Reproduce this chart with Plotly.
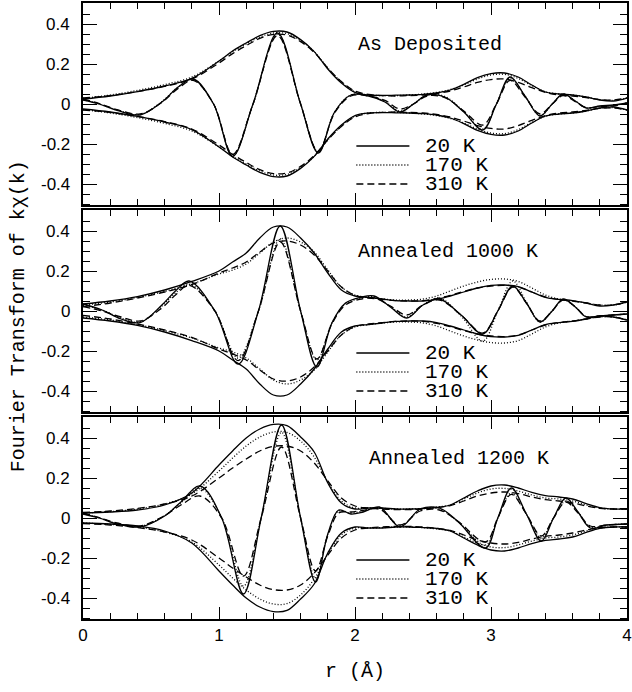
import plotly.graph_objects as go

# ---------------- data ----------------
temps = ["20 K", "170 K", "310 K"]
panel_titles = ["As Deposited", "Annealed 1000 K", "Annealed 1200 K"]
y_tickvals = [-0.4, -0.2, 0.0, 0.2, 0.4]
y_ticktext = ["-0.4", "-0.2", "0", "0.2", "0.4"]
x_tickvals = [0, 1, 2, 3, 4]
x_ticktext = ["0", "1", "2", "3", "4"]

r_env = [0.0, 0.2, 0.4, 0.6, 0.8, 1.0, 1.1, 1.2, 1.3, 1.4, 1.5, 1.6, 1.7, 1.8, 1.9,
         2.0, 2.1, 2.2, 2.3, 2.4, 2.5, 2.6, 2.7, 2.8, 2.9, 3.0, 3.1, 3.2, 3.3, 3.4,
         3.5, 3.6, 3.7, 3.8, 3.9, 4.0]

# magnitude |FT| (envelopes)
env_dep_20 = [0.025, 0.040, 0.062, 0.090, 0.128, 0.215, 0.265, 0.305, 0.342, 0.363, 0.360, 0.322,
              0.262, 0.175, 0.105, 0.058, 0.045, 0.043, 0.044, 0.045, 0.048, 0.055, 0.070, 0.098,
              0.132, 0.152, 0.155, 0.135, 0.095, 0.060, 0.050, 0.045, 0.035, 0.020, 0.015, 0.030]
env_dep_170 = [0.028, 0.045, 0.068, 0.097, 0.135, 0.215, 0.262, 0.300, 0.335, 0.355, 0.352, 0.318,
               0.262, 0.180, 0.110, 0.060, 0.045, 0.042, 0.042, 0.045, 0.050, 0.058, 0.072, 0.095,
               0.125, 0.145, 0.148, 0.128, 0.092, 0.062, 0.050, 0.045, 0.035, 0.022, 0.018, 0.030]
env_dep_310 = [0.030, 0.042, 0.062, 0.088, 0.125, 0.205, 0.252, 0.292, 0.328, 0.348, 0.345, 0.312,
               0.258, 0.180, 0.112, 0.065, 0.048, 0.042, 0.040, 0.042, 0.045, 0.052, 0.065, 0.085,
               0.108, 0.122, 0.125, 0.108, 0.082, 0.058, 0.045, 0.040, 0.032, 0.022, 0.020, 0.030]

env_a10_20 = [0.035, 0.050, 0.072, 0.105, 0.148, 0.200, 0.245, 0.290, 0.365, 0.420, 0.420, 0.365,
              0.290, 0.190, 0.105, 0.075, 0.068, 0.060, 0.052, 0.050, 0.050, 0.058, 0.075, 0.095,
              0.115, 0.128, 0.130, 0.122, 0.095, 0.068, 0.058, 0.052, 0.040, 0.025, 0.030, 0.045]
env_a10_170 = [0.030, 0.045, 0.068, 0.098, 0.135, 0.185, 0.205, 0.235, 0.290, 0.345, 0.365, 0.345,
               0.295, 0.205, 0.120, 0.080, 0.068, 0.060, 0.055, 0.055, 0.060, 0.075, 0.100, 0.125,
               0.145, 0.158, 0.160, 0.148, 0.115, 0.080, 0.060, 0.050, 0.040, 0.030, 0.030, 0.045]
env_a10_310 = [0.022, 0.040, 0.065, 0.095, 0.132, 0.190, 0.215, 0.245, 0.295, 0.340, 0.350, 0.330,
               0.280, 0.200, 0.120, 0.078, 0.065, 0.058, 0.052, 0.050, 0.052, 0.062, 0.078, 0.098,
               0.115, 0.125, 0.128, 0.120, 0.095, 0.070, 0.058, 0.050, 0.040, 0.030, 0.030, 0.045]

env_a12_20 = [0.025, 0.030, 0.040, 0.065, 0.125, 0.265, 0.335, 0.400, 0.445, 0.468, 0.462, 0.405,
              0.330, 0.175, 0.075, 0.045, 0.050, 0.050, 0.045, 0.045, 0.048, 0.052, 0.065, 0.100,
              0.135, 0.160, 0.165, 0.150, 0.128, 0.112, 0.105, 0.095, 0.072, 0.052, 0.045, 0.045]
env_a12_170 = [0.025, 0.032, 0.045, 0.070, 0.120, 0.235, 0.300, 0.360, 0.405, 0.430, 0.428, 0.385,
               0.305, 0.180, 0.085, 0.050, 0.050, 0.048, 0.045, 0.045, 0.048, 0.055, 0.065, 0.095,
               0.125, 0.145, 0.148, 0.135, 0.115, 0.100, 0.095, 0.085, 0.065, 0.050, 0.045, 0.045]
env_a12_310 = [0.028, 0.035, 0.048, 0.070, 0.110, 0.200, 0.250, 0.295, 0.335, 0.358, 0.360, 0.335,
               0.275, 0.185, 0.100, 0.060, 0.050, 0.045, 0.042, 0.042, 0.045, 0.052, 0.062, 0.085,
               0.110, 0.125, 0.130, 0.122, 0.105, 0.092, 0.085, 0.075, 0.060, 0.048, 0.045, 0.045]

# real parts (key points: extrema and zero crossings)
re_dep_r = [0.00, 0.12, 0.25, 0.42, 0.58, 0.70, 0.81, 0.96, 1.10, 1.25, 1.43, 1.60, 1.73, 1.85,
            1.97, 2.10, 2.22, 2.33, 2.43, 2.53, 2.66, 2.80, 2.94, 3.04, 3.14, 3.25, 3.36, 3.45,
            3.53, 3.62, 3.70, 3.80, 3.90, 4.00]
re_dep_20 = [0.020, 0.000, -0.032, -0.055, 0.010, 0.085, 0.125, 0.000, -0.262, 0.000, 0.355, 0.000,
             -0.245, -0.040, 0.045, 0.040, 0.010, -0.040, 0.000, 0.045, 0.035, -0.040, -0.130, 0.000,
             0.135, 0.040, -0.060, 0.000, 0.050, 0.015, -0.020, -0.010, -0.005, 0.005]
re_dep_170 = [0.022, 0.000, -0.030, -0.052, 0.012, 0.085, 0.122, 0.000, -0.258, 0.000, 0.348, 0.000,
              -0.240, -0.040, 0.045, 0.042, 0.012, -0.035, 0.000, 0.045, 0.038, -0.038, -0.125, 0.000,
              0.130, 0.040, -0.058, 0.000, 0.048, 0.015, -0.020, -0.012, -0.008, 0.005]
re_dep_310 = [0.025, 0.002, -0.028, -0.050, 0.008, 0.078, 0.118, 0.000, -0.252, 0.000, 0.342, 0.000,
              -0.238, -0.045, 0.040, 0.040, 0.018, -0.025, 0.000, 0.040, 0.032, -0.035, -0.105, 0.000,
              0.118, 0.035, -0.050, 0.000, 0.042, 0.012, -0.018, -0.012, -0.010, 0.005]

re_a10_r = [0.00, 0.14, 0.28, 0.42, 0.58, 0.68, 0.78, 0.97, 1.14, 1.29, 1.45, 1.60, 1.72, 1.83,
            1.93, 2.05, 2.14, 2.26, 2.38, 2.50, 2.62, 2.78, 2.94, 3.05, 3.16, 3.26, 3.36, 3.45,
            3.53, 3.62, 3.70, 3.80, 3.90, 4.00]
re_a10_20 = [0.035, 0.005, -0.040, -0.058, 0.030, 0.100, 0.150, 0.000, -0.265, 0.000, 0.425, 0.000,
             -0.280, -0.060, 0.040, 0.070, 0.075, 0.020, -0.035, 0.030, 0.060, -0.020, -0.115, 0.000,
             0.125, 0.040, -0.055, 0.000, 0.060, 0.020, -0.030, -0.025, -0.020, -0.015]
re_a10_170 = [0.030, 0.005, -0.035, -0.055, 0.025, 0.090, 0.135, 0.000, -0.235, 0.000, 0.360, 0.000,
              -0.245, -0.060, 0.035, 0.065, 0.070, 0.022, -0.030, 0.030, 0.065, -0.025, -0.150, 0.000,
              0.150, 0.045, -0.055, 0.000, 0.055, 0.020, -0.028, -0.025, -0.020, -0.015]
re_a10_310 = [0.022, 0.000, -0.030, -0.050, 0.015, 0.080, 0.128, 0.000, -0.248, 0.000, 0.345, 0.000,
              -0.240, -0.065, 0.030, 0.060, 0.065, 0.025, -0.020, 0.030, 0.055, -0.020, -0.110, 0.000,
              0.120, 0.040, -0.050, 0.000, 0.055, 0.020, -0.028, -0.025, -0.020, -0.015]

re_a12_r = [0.00, 0.12, 0.25, 0.42, 0.60, 0.72, 0.86, 1.02, 1.18, 1.31, 1.46, 1.60, 1.71, 1.80,
            1.88, 1.97, 2.06, 2.18, 2.33, 2.48, 2.62, 2.76, 2.96, 3.05, 3.15, 3.26, 3.37, 3.46,
            3.55, 3.64, 3.73, 3.85, 4.00]
re_a12_20 = [0.020, 0.000, -0.030, -0.045, 0.010, 0.080, 0.160, 0.000, -0.380, 0.000, 0.465, 0.000,
             -0.320, -0.080, 0.040, 0.020, 0.030, 0.055, -0.045, 0.045, 0.050, -0.020, -0.150, 0.000,
             0.150, 0.020, -0.115, 0.000, 0.100, 0.030, -0.050, -0.035, -0.030]
re_a12_170 = [0.022, 0.000, -0.028, -0.042, 0.012, 0.075, 0.150, 0.000, -0.340, 0.000, 0.428, 0.000,
              -0.300, -0.080, 0.035, 0.025, 0.035, 0.050, -0.040, 0.040, 0.045, -0.020, -0.135, 0.000,
              0.125, 0.020, -0.100, 0.000, 0.085, 0.030, -0.045, -0.035, -0.030]
re_a12_310 = [0.025, 0.002, -0.025, -0.040, 0.012, 0.065, 0.110, 0.000, -0.290, 0.000, 0.355, 0.000,
              -0.265, -0.090, 0.025, 0.030, 0.038, 0.045, -0.035, 0.035, 0.040, -0.018, -0.120, 0.000,
              0.118, 0.020, -0.090, 0.000, 0.080, 0.025, -0.040, -0.035, -0.030]

# ---------------- figure ----------------
dashes = ["solid", "1px,2px", "7px,4px"]
panels = [
    (panel_titles[0], [env_dep_20, env_dep_170, env_dep_310], re_dep_r, [re_dep_20, re_dep_170, re_dep_310], 2.01),
    (panel_titles[1], [env_a10_20, env_a10_170, env_a10_310], re_a10_r, [re_a10_20, re_a10_170, re_a10_310], 2.01),
    (panel_titles[2], [env_a12_20, env_a12_170, env_a12_310], re_a12_r, [re_a12_20, re_a12_170, re_a12_310], 2.09),
]
domains = [[414 / 616, 1.0], [207 / 616, 409 / 616], [0.0, 202 / 616]]

MONO = "Liberation Mono"
SANS = "Liberation Sans"

fig = go.Figure()
shapes = []
annotations = []
for i, (title, envs, rr, reals, title_x) in enumerate(panels):
    ax = "" if i == 0 else str(i + 1)
    xa, ya = "x" + ax, "y" + ax
    for t in range(3):
        ln = dict(color="black", width=1.3, dash=dashes[t], shape="spline", smoothing=1.0)
        fig.add_trace(go.Scatter(x=r_env, y=envs[t], mode="lines", line=ln, xaxis=xa, yaxis=ya,
                                 showlegend=False, hoverinfo="skip"))
        fig.add_trace(go.Scatter(x=r_env, y=[-v for v in envs[t]], mode="lines", line=ln, xaxis=xa,
                                 yaxis=ya, showlegend=False, hoverinfo="skip"))
        fig.add_trace(go.Scatter(x=rr, y=reals[t], mode="lines", line=ln, xaxis=xa, yaxis=ya,
                                 showlegend=False, hoverinfo="skip"))
    annotations.append(dict(text=title, x=title_x, y=0.30, xref=xa, yref=ya, xanchor="left",
                            yanchor="middle", showarrow=False,
                            font=dict(family=MONO, size=20, color="black")))
    for t, yy in enumerate([-0.21, -0.305, -0.40]):
        shapes.append(dict(type="line", xref=xa, yref=ya, x0=2.01, x1=2.40, y0=yy, y1=yy,
                           line=dict(color="black", width=1.3, dash=dashes[t])))
        annotations.append(dict(text=temps[t], x=2.51, y=yy, xref=xa, yref=ya, xanchor="left",
                                yanchor="middle", showarrow=False, height=15, borderpad=0,
                                valign="middle", font=dict(family=MONO, size=21, color="black")))
    # y tick labels (placed just left of each panel)
    for v, txt in zip(y_tickvals, y_ticktext):
        annotations.append(dict(text=txt, x=-0.0205, y=v, xref="paper", yref=ya, xanchor="right",
                                yanchor="middle", showarrow=False,
                                font=dict(family=SANS, size=17, color="black")))

axis_common = dict(showline=True, linecolor="black", linewidth=1.5, mirror="ticks", automargin=False,
                   ticks="inside", tickcolor="black", showgrid=False, zeroline=False)
layout = {}
for i in range(3):
    ax = "" if i == 0 else str(i + 1)
    layout["xaxis" + ax] = dict(axis_common, range=[0, 4], domain=[0, 1], anchor="y" + ax,
                                tickmode="array", tickvals=x_tickvals, ticktext=x_ticktext,
                                ticklen=12, tickwidth=1.2, showticklabels=(i == 2),
                                tickfont=dict(family=SANS, size=17, color="black"),
                                minor=dict(tickmode="linear", tick0=0, dtick=0.2, ticks="inside",
                                           ticklen=6, tickwidth=1, tickcolor="black"))
    layout["yaxis" + ax] = dict(axis_common, range=[-0.505, 0.505], domain=domains[i], anchor="x" + ax,
                                tickmode="array", tickvals=y_tickvals, ticktext=y_ticktext,
                                ticklen=14, tickwidth=1.2, showticklabels=False,
                                minor=dict(tickmode="linear", tick0=0, dtick=0.05, ticks="inside",
                                           ticklen=7, tickwidth=1, tickcolor="black"))

annotations.append(dict(text="Fourier Transform of kχ(k)", x=-0.117, y=0.492, xref="paper", yref="paper",
                        textangle=-90, showarrow=False, xanchor="center", yanchor="middle",
                        font=dict(family=MONO, size=20, color="black")))
annotations.append(dict(text="r (Å)", x=0.5, y=-0.086, xref="paper", yref="paper", showarrow=False,
                        xanchor="center", yanchor="middle", font=dict(family=MONO, size=20, color="black")))

fig.update_layout(width=632, height=692, margin=dict(l=83, r=5, t=3, b=73, autoexpand=False),
                  paper_bgcolor="white", plot_bgcolor="white", showlegend=False,
                  shapes=shapes, annotations=annotations, **layout)
fig.write_html("out.html", config={"displayModeBar": False},
               post_script="document.body.style.margin='0';document.body.style.overflow='hidden';")
